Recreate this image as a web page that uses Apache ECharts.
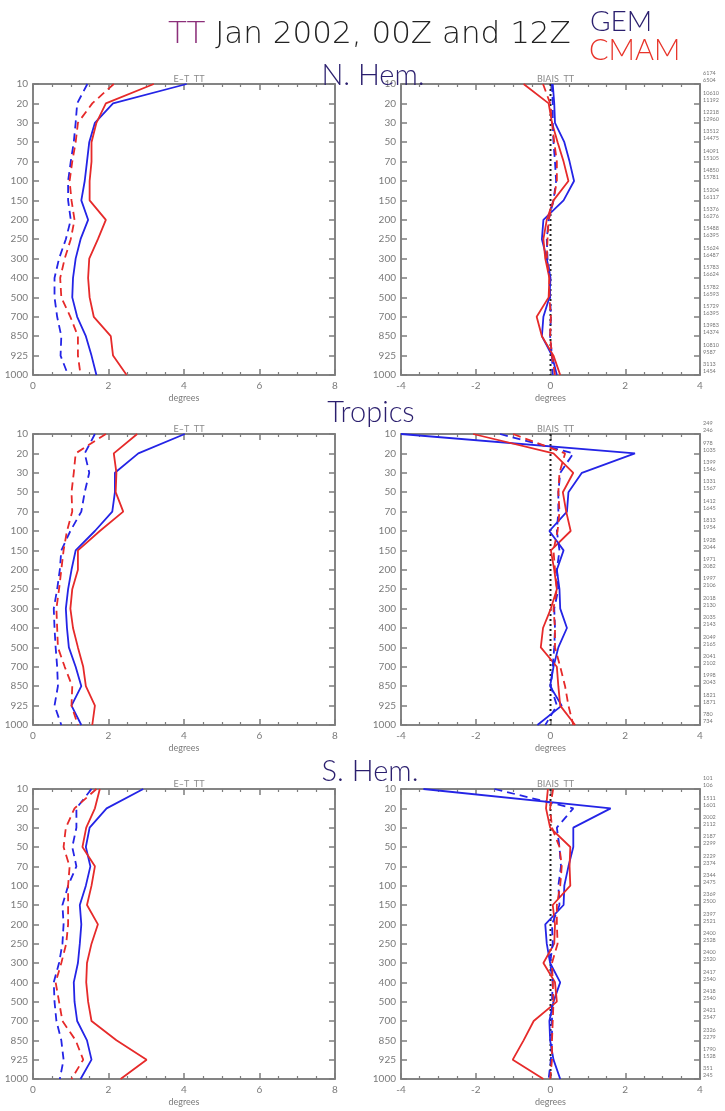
<!DOCTYPE html>
<html>
<head>
<meta charset="utf-8">
<script src="https://cdn.jsdelivr.net/npm/echarts@6/dist/echarts.min.js"></script>
<style>html,body{margin:0;padding:0;background:#fff;}#c{width:725px;height:1111px;}</style>
</head>
<body>
<div id="c"></div>
<script>
// Pressure levels (hPa), top to bottom
const levels = ['10','20','30','50','70','100','150','200','250','300','400','500','700','850','925','1000'];
const etTicks = [0, 2, 4, 6, 8];
const biasTicks = [-4, -2, 0, 2, 4];

// N. Hem. — E-T (std dev)
const nhEtGemSolid  = [4.07,2.12,1.64,1.49,1.43,1.37,1.28,1.46,1.26,1.13,1.06,1.04,1.17,1.40,1.55,1.68];
const nhEtCmamSolid = [3.20,1.93,1.68,1.55,1.55,1.50,1.50,1.93,1.72,1.49,1.46,1.50,1.61,2.06,2.12,2.48];
const nhEtGemDash   = [1.44,1.17,1.13,1.08,1.00,0.93,0.93,1.00,0.87,0.69,0.57,0.57,0.64,0.75,0.73,0.93];
const nhEtCmamDash  = [2.14,1.57,1.19,1.13,1.04,0.97,1.02,1.10,1.00,0.84,0.72,0.75,0.99,1.19,1.19,1.26];
// N. Hem. — bias
const nhBiGemSolid  = [0.06,0.10,0.12,0.37,0.51,0.63,0.35,-0.19,-0.23,-0.10,0.00,-0.03,-0.19,-0.23,0.04,0.17];
const nhBiCmamSolid = [-0.72,-0.05,0.04,0.19,0.35,0.48,0.08,-0.10,-0.19,-0.14,-0.03,-0.05,-0.37,-0.23,0.08,0.26];
const nhBiGemDash   = [0.04,0.06,0.06,0.08,0.12,0.15,0.08,-0.05,-0.10,-0.08,-0.01,-0.01,0.01,-0.01,0.04,0.06];
const nhBiCmamDash  = [-0.20,-0.01,0.04,0.10,0.17,0.17,0.08,-0.05,-0.08,-0.10,-0.03,-0.03,0.01,-0.01,0.04,0.12];
const nhCountA = ['6174','10610','12218','13512','14091','14850','15204','15376','15488','15624','15783','15782','15729','13983','10810','3113'];
const nhCountB = ['6504','11192','12960','14475','15105','15781','16117','16276','16395','16487','16624','16593','16395','14374','9587','1454'];

// Tropics — E-T
const trEtGemSolid  = [4.02,2.79,2.17,2.17,2.10,1.64,1.13,1.02,0.93,0.87,0.90,0.95,1.13,1.28,1.02,1.28];
const trEtCmamSolid = [2.76,2.14,2.21,2.19,2.39,1.77,1.19,1.19,1.04,0.99,1.06,1.19,1.33,1.40,1.64,1.57];
const trEtGemDash   = [1.64,1.37,1.49,1.37,1.28,0.99,0.75,0.71,0.64,0.55,0.57,0.60,0.64,0.66,0.57,0.75];
const trEtCmamDash  = [1.93,1.13,1.08,1.02,1.04,0.90,0.81,0.75,0.69,0.62,0.64,0.66,0.84,1.04,1.02,1.19];
// Tropics — bias
const trBiGemSolid  = [-4.00,2.26,0.84,0.48,0.44,-0.03,0.35,0.17,0.24,0.26,0.44,0.21,0.08,-0.01,0.30,-0.35];
const trBiCmamSolid = [-2.07,0.08,0.61,0.33,0.42,0.54,0.01,0.10,0.17,0.01,-0.20,-0.26,0.17,0.21,0.26,0.66];
const trBiGemDash   = [-1.35,0.61,0.26,0.21,0.21,0.17,0.24,0.17,0.21,0.10,0.12,0.10,0.06,0.01,0.17,-0.14];
const trBiCmamDash  = [-1.00,0.39,0.24,0.21,0.24,0.19,0.08,0.12,0.17,0.08,0.12,0.12,0.26,0.39,0.48,0.61];
const trCountA = ['249','978','1399','1331','1412','1813','1928','1971','1997','2018','2035','2049','2041','1998','1821','780'];
const trCountB = ['246','1035','1546','1567','1645','1954','2044','2082','2106','2130','2143','2165','2102','2043','1871','734'];

// S. Hem. — E-T
const shEtGemSolid  = [2.92,1.95,1.50,1.40,1.52,1.40,1.24,1.28,1.24,1.19,1.08,1.10,1.17,1.43,1.55,1.26];
const shEtCmamSolid = [1.77,1.64,1.41,1.31,1.64,1.55,1.43,1.72,1.55,1.43,1.41,1.46,1.55,2.21,3.01,2.32];
const shEtGemDash   = [1.55,1.15,1.15,1.04,1.15,0.93,0.78,0.81,0.78,0.69,0.55,0.57,0.62,0.75,0.81,0.71];
const shEtCmamDash  = [1.68,1.10,0.87,0.81,0.97,0.93,0.93,0.93,0.88,0.75,0.60,0.69,0.78,1.13,1.33,1.02];
// S. Hem. — bias
const shBiGemSolid  = [-3.40,1.61,0.61,0.61,0.48,0.37,0.35,-0.14,-0.10,-0.01,0.26,0.08,-0.03,-0.01,0.08,0.26];
const shBiCmamSolid = [-0.07,-0.12,-0.01,0.53,0.51,0.53,0.06,0.12,0.10,-0.19,0.12,0.17,-0.45,-0.72,-1.01,-0.19];
const shBiGemDash   = [-1.50,0.61,0.17,0.24,0.28,0.21,0.24,0.04,0.06,-0.01,0.06,0.04,0.04,0.04,0.01,-0.05];
const shBiCmamDash  = [0.07,-0.01,0.04,0.24,0.30,0.26,0.17,0.17,0.19,0.04,0.06,0.08,0.06,0.04,0.04,-0.01];
const shCountA = ['101','1511','2002','2187','2229','2344','2369','2397','2400','2400','2417','2418','2421','2326','1790','351'];
const shCountB = ['106','1601','2112','2299','2374','2475','2500','2521','2528','2520','2540','2540','2547','2279','1528','245'];

const zeroLine = levels.map(() => 0);

const BLUE = '#2424e6', RED = '#e62a2a', AXC = '#7d7d7d', LBL = '#7a7a7a', NAVY = '#2b1f6e';
const FONT = 'Lato, "Open Sans", "DejaVu Sans", sans-serif';
const TFONT = '"DejaVu Sans", Lato, sans-serif';

const panels = [
  {left:33, top:84, w:302, h:291, kind:'et', data:[nhEtGemSolid,nhEtCmamSolid,nhEtGemDash,nhEtCmamDash]},
  {left:401, top:84, w:299, h:291, kind:'bi', data:[nhBiGemSolid,nhBiCmamSolid,nhBiGemDash,nhBiCmamDash], ca:nhCountA, cb:nhCountB},
  {left:33, top:434, w:302, h:291, kind:'et', data:[trEtGemSolid,trEtCmamSolid,trEtGemDash,trEtCmamDash]},
  {left:401, top:434, w:299, h:291, kind:'bi', data:[trBiGemSolid,trBiCmamSolid,trBiGemDash,trBiCmamDash], ca:trCountA, cb:trCountB},
  {left:33, top:789, w:302, h:290, kind:'et', data:[shEtGemSolid,shEtCmamSolid,shEtGemDash,shEtCmamDash]},
  {left:401, top:789, w:299, h:290, kind:'bi', data:[shBiGemSolid,shBiCmamSolid,shBiGemDash,shBiCmamDash], ca:shCountA, cb:shCountB}
];

const grid = [], xAxis = [], yAxis = [], series = [], title = [];
const tick = () => ({show:true, inside:true, length:6, lineStyle:{color:AXC, width:1.5}});
const minor = () => ({show:true, splitNumber:4, length:3, lineStyle:{color:AXC, width:1.2}});
const line = () => ({show:true, onZero:false, lineStyle:{color:AXC, width:1.5}});

panels.forEach((p, i) => {
  grid.push({left:p.left, top:p.top, width:p.w, height:p.h, containLabel:false,
    show:true, borderColor:AXC, borderWidth:1.5});
  const isEt = p.kind === 'et';
  const ticks = isEt ? etTicks : biasTicks;
  const xmin = ticks[0], xmax = ticks[ticks.length-1];
  xAxis.push({gridIndex:i, type:'value', min:xmin, max:xmax, interval:2, position:'bottom',
    axisLine:line(), axisTick:tick(), minorTick:minor(), splitLine:{show:false},
    axisLabel:{color:LBL, fontSize:10, margin:6, fontFamily:FONT},
    name:'degrees', nameLocation:'middle', nameGap:19, nameTextStyle:{color:LBL, fontSize:9, fontFamily:FONT}});
  xAxis.push({gridIndex:i, type:'value', min:xmin, max:xmax, interval:2, position:'top',
    axisLine:line(), axisTick:tick(), minorTick:minor(), splitLine:{show:false},
    axisLabel:{show:true, color:'rgba(0,0,0,0)', fontSize:1}});
  yAxis.push({gridIndex:i, type:'category', data:levels, inverse:true, boundaryGap:false, position:'left',
    axisLine:line(), axisTick:tick(),
    axisLabel:{color:LBL, fontSize:10, margin:5, fontFamily:FONT}, splitLine:{show:false}});
  const right = {gridIndex:i, type:'category', data:levels, inverse:true, boundaryGap:false, position:'right',
    axisLine:line(), axisTick:tick(), splitLine:{show:false},
    axisLabel:{show:true, color:'rgba(0,0,0,0)', fontSize:1}};
  if (!isEt) {
    const ca = p.ca, cb = p.cb;
    right.axisLabel = {show:true, margin:3, fontSize:5.5, color:'#777', fontFamily:FONT,
      lineHeight:7, verticalAlign:'bottom',
      formatter:(v, idx) => ca[idx] + '\n' + cb[idx]};
  }
  yAxis.push(right);
  const xi = i*2, yi = i*2;
  const styles = [
    {c:BLUE, t:'solid'}, {c:RED, t:'solid'}, {c:BLUE, t:[8,5]}, {c:RED, t:[8,5]}
  ];
  series.push({type:'line', xAxisIndex:xi+1, yAxisIndex:yi+1, showSymbol:false,
    data: isEt ? [] : zeroLine.map((v,k)=>[v, levels[k]]),
    lineStyle:{color:'#222', width:2, type:[2,3]}});
  p.data.forEach((arr, k) => {
    series.push({type:'line', xAxisIndex:xi, yAxisIndex:yi, showSymbol:false,
      data:arr.map((v,j)=>[v, levels[j]]),
      lineStyle:{color:styles[k].c, width:1.8, type:styles[k].t}});
  });
  title.push({text: isEt ? 'E\u2013T  TT' : 'BIAIS  TT', left: p.left + p.w/2, top: p.top - 14, textAlign:'center',
    textStyle:{color:'#8a8a8a', fontSize:9, fontWeight:'normal', fontFamily:FONT}});
});

title.push({text:'{p|TT} Jan 2002, 00Z and 12Z', left:163, top:14,
  textStyle:{fontSize:31, fontWeight:200, color:'#222', fontFamily:TFONT,
    rich:{p:{fontSize:31, fontWeight:200, color:'#8c2f7a', fontFamily:TFONT}}}});
title.push({text:'GEM', left:585, top:3, textStyle:{fontSize:28, fontWeight:300, color:NAVY, fontFamily:FONT}});
title.push({text:'CMAM', left:584, top:31, textStyle:{fontSize:29, fontWeight:300, color:'#e8342a', fontFamily:FONT}});
title.push({text:'N. Hem.', left:368, top:56, textAlign:'center', textStyle:{fontSize:29, fontWeight:300, color:NAVY, fontFamily:FONT}});
title.push({text:'Tropics', left:366, top:393, textAlign:'center', textStyle:{fontSize:29, fontWeight:300, color:NAVY, fontFamily:FONT}});
title.push({text:'S. Hem.', left:365, top:752, textAlign:'center', textStyle:{fontSize:29, fontWeight:300, color:NAVY, fontFamily:FONT}});

const chart = echarts.init(document.getElementById('c'));
chart.setOption({animation:false, title, grid, xAxis, yAxis, series});
</script>
</body>
</html>
